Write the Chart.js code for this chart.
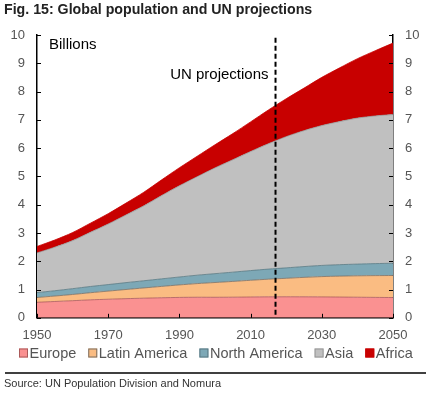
<!DOCTYPE html>
<html>
<head>
<meta charset="utf-8">
<script src="https://cdn.jsdelivr.net/npm/chart.js@4"></script>
<style>
  body { margin: 0; background: #fff; }
  #wrap { width: 438px; height: 396px; }
</style>
</head>
<body>
<div id="wrap"><canvas id="myChart" width="438" height="396"></canvas></div>
<script>
// years and population by region, billions
const years = [1950, 1955, 1960, 1965, 1970, 1975, 1980, 1985, 1990, 1995, 2000,
    2005, 2010, 2015, 2020, 2025, 2030, 2035, 2040, 2045, 2050];
const europe = [0.549, 0.577, 0.605, 0.635, 0.657, 0.677, 0.694, 0.708, 0.721, 0.727, 0.726,
    0.729, 0.736, 0.741, 0.743, 0.742, 0.739, 0.734, 0.728, 0.722, 0.716];
const latinAmerica = [0.169, 0.193, 0.220, 0.252, 0.287, 0.324, 0.362, 0.402, 0.442, 0.483, 0.522,
    0.557, 0.591, 0.624, 0.654, 0.688, 0.718, 0.740, 0.757, 0.770, 0.780];
const northAmerica = [0.173, 0.187, 0.205, 0.220, 0.231, 0.243, 0.254, 0.267, 0.280, 0.297, 0.313,
    0.328, 0.343, 0.357, 0.369, 0.382, 0.395, 0.405, 0.414, 0.424, 0.435];
const asia = [1.404, 1.541, 1.700, 1.917, 2.142, 2.393, 2.649, 2.946, 3.226, 3.484, 3.741,
    3.975, 4.210, 4.434, 4.641, 4.807, 4.947, 5.061, 5.164, 5.223, 5.257];
const africa = [0.228, 0.254, 0.285, 0.322, 0.366, 0.419, 0.482, 0.555, 0.638, 0.723, 0.818,
    0.925, 1.049, 1.194, 1.340, 1.504, 1.704, 1.899, 2.100, 2.306, 2.528];
const projectionYear = 2017;

const toPoints = arr => arr.map((v, i) => ({ x: years[i], y: v }));

const greyText = '#555';
const font = 'Arial, "Liberation Sans", sans-serif';

// dashed line, labels, inward ticks, legend and the source rule
const extras = {
    id: 'extras',
    afterDraw(chart) {
        const { ctx, chartArea, scales } = chart;
        const x = scales.x, y = scales.y;
        ctx.save();
        // tick marks pointing inwards
        ctx.strokeStyle = '#000';
        ctx.lineWidth = 1;
        for (let v = 0; v <= 10; v++) {
            const py = Math.round(y.getPixelForValue(v)) + 0.5;
            ctx.beginPath();
            ctx.moveTo(chartArea.left, py); ctx.lineTo(chartArea.left + 4, py);
            ctx.moveTo(chartArea.right, py); ctx.lineTo(chartArea.right - 4, py);
            ctx.stroke();
        }
        for (let v = 1950; v <= 2050; v += 20) {
            const px = Math.round(x.getPixelForValue(v)) + 0.5;
            ctx.beginPath();
            ctx.moveTo(px, chartArea.bottom); ctx.lineTo(px, chartArea.bottom - 4);
            ctx.stroke();
        }
        // projection marker
        const dx = x.getPixelForValue(projectionYear);
        ctx.setLineDash([5, 3]);
        ctx.lineWidth = 2;
        ctx.beginPath();
        ctx.moveTo(dx, y.getPixelForValue(9.9));
        ctx.lineTo(dx, chartArea.bottom);
        ctx.stroke();
        ctx.setLineDash([]);
        ctx.fillStyle = '#000';
        ctx.font = '15px ' + font;
        ctx.textBaseline = 'middle';
        ctx.textAlign = 'left';
        ctx.fillText('Billions', chartArea.left + 12, y.getPixelForValue(9.65));
        ctx.textAlign = 'right';
        ctx.fillText('UN projections', dx - 7, y.getPixelForValue(8.6));

        // legend: small box, tight gap, then label
        ctx.font = '14.5px ' + font;
        ctx.textAlign = 'left';
        const items = chart.data.datasets;
        let lx = 19;
        const ly = 353;
        items.forEach(d => {
            ctx.fillStyle = d.backgroundColor;
            ctx.fillRect(lx, ly - 4.5, 9, 9);
            ctx.strokeStyle = d.borderColor;
            ctx.lineWidth = 1;
            ctx.strokeRect(lx + 0.5, ly - 4, 8, 8);
            ctx.fillStyle = greyText;
            ctx.fillText(d.label, lx + 10.5, ly + 0.5);
            lx += 10.5 + ctx.measureText(d.label).width + 12;
        });

        // rule above the source
        ctx.strokeStyle = '#000';
        ctx.lineWidth = 1.5;
        ctx.beginPath();
        ctx.moveTo(5, 373); ctx.lineTo(426, 373);
        ctx.stroke();
        ctx.restore();
    }
};

const ctx = document.getElementById('myChart').getContext('2d');

const data = {
    datasets: [
        { label: 'Europe', data: toPoints(europe), backgroundColor: 'rgb(250, 145, 145)', borderColor: 'rgb(170, 90, 90)', fill: 'origin' },
        { label: 'Latin America', data: toPoints(latinAmerica), backgroundColor: 'rgb(250, 188, 130)', borderColor: 'rgb(120, 110, 100)', fill: '-1' },
        { label: 'North America', data: toPoints(northAmerica), backgroundColor: 'rgb(125, 168, 182)', borderColor: 'rgb(90, 120, 130)', fill: '-1' },
        { label: 'Asia', data: toPoints(asia), backgroundColor: 'rgb(192, 192, 192)', borderColor: 'rgb(150, 150, 150)', fill: '-1' },
        { label: 'Africa', data: toPoints(africa), backgroundColor: 'rgb(200, 0, 0)', borderColor: 'rgb(200, 0, 0)', fill: '-1' },
    ]
};

const myChart = new Chart(ctx, {
    type: 'line',
    data: data,
    plugins: [extras],
    options: {
        responsive: false,
        animation: false,
        layout: { padding: { left: 4, right: 8, top: 0, bottom: 0 } },
        elements: {
            point: { radius: 0 },
            line: { borderWidth: 0.8, tension: 0.3 },
        },
        scales: {
            x: {
                type: 'linear',
                min: 1950,
                max: 2050,
                grid: { display: false, drawTicks: false },
                border: { display: true, color: '#000', width: 1.5 },
                ticks: { stepSize: 20, color: greyText, font: { family: font, size: 13 }, padding: 10, maxRotation: 0,
                    callback: v => String(v) },
                afterFit: scale => { scale.height = 55; },
            },
            y: {
                stacked: true,
                min: 0,
                max: 10,
                grid: { display: false, drawTicks: false },
                border: { display: true, color: '#000', width: 1.5 },
                ticks: { stepSize: 1, color: greyText, font: { family: font, size: 13 }, padding: 12 },
                afterFit: scale => { scale.width = 33; },
            },
            y2: {
                position: 'right',
                min: 0,
                max: 10,
                grid: { display: false, drawTicks: false },
                border: { display: true, color: '#000', width: 1.5 },
                ticks: { stepSize: 1, color: greyText, font: { family: font, size: 13 }, padding: 12 },
                afterFit: scale => { scale.width = 37; },
            },
        },
        plugins: {
            title: {
                display: true,
                text: 'Fig. 15: Global population and UN projections',
                align: 'start',
                color: '#222',
                font: { family: font, size: 14.2, weight: 'bold' },
                padding: { top: 2, bottom: 16 },
            },
            legend: { display: false },
            subtitle: {
                display: true,
                text: 'Source: UN Population Division and Nomura',
                position: 'bottom',
                align: 'start',
                color: '#333',
                font: { family: font, size: 11 },
                padding: { top: 5, bottom: 5 },
            },
            tooltip: { enabled: false },
        }
    },
});
</script>
</body>
</html>
